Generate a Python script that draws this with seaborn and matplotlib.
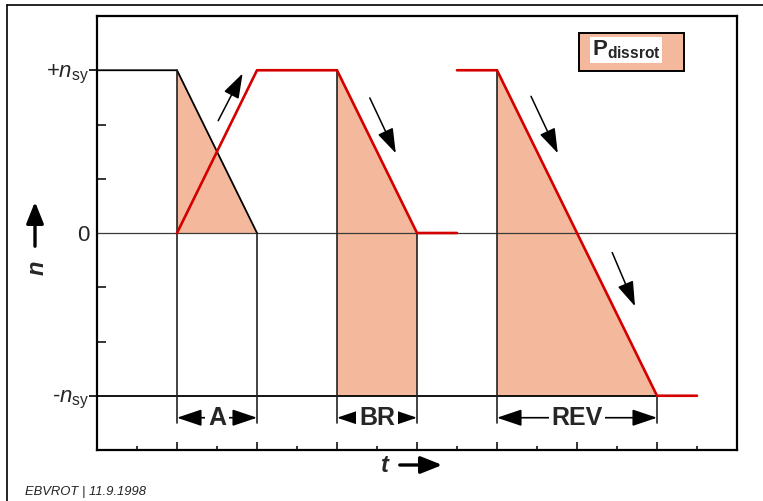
import numpy as np
import pandas as pd
import seaborn as sns
import matplotlib
matplotlib.use("Agg")
import matplotlib.pyplot as plt
from matplotlib.lines import Line2D
from matplotlib.patches import Rectangle, Polygon, FancyArrowPatch

# ---------------- data ----------------
t_black = [0, 2, 4]
n_black = [1, 1, 0]
t_red1 = [2, 4, 6, 8, 9]
n_red1 = [0, 1, 1, 0, 0]
t_red2 = [9, 10, 14, 15]
n_red2 = [1, 1, -1, -1]
t_base = [0, 14]
n_base = [-1, -1]
bound_x = [2, 4, 6, 8, 10, 14]
bound_top = [1, 0, 1, 0, 1, -1]
interval_names = ["A", "BR", "REV"]
interval_start = [2, 6, 10]
interval_end = [4, 8, 14]
ytick_vals = [-1, 0, 1]
ytick_labels = [r"-$\mathit{n}_{\mathrm{sy}}$", "0", r"+$\mathit{n}_{\mathrm{sy}}$"]
# dissipated-power areas
fillA_t = [2, 2, 4]
fillA_n = [1, 0, 0]
fillBR_t = [6, 8, 8, 6]
fillBR_n = [1, 0, -1, -1]
fillREV_t = [10, 14, 10]
fillREV_n = [1, -1, -1]
# direction arrows (start t, start n, end t, end n)
arrows = [(3.03, 0.69, 3.64, 0.98),
          (6.82, 0.83, 7.47, 0.49),
          (10.85, 0.84, 11.52, 0.49),
          (12.88, -0.12, 13.45, -0.45)]

RED = "#D40000"
SALMON = "#F4B99C"

sns.set_theme(style="white")
plt.rcParams["font.family"] = ["Liberation Sans", "DejaVu Sans"]
plt.rcParams["mathtext.fontset"] = "custom"
plt.rcParams["mathtext.rm"] = "Liberation Sans"
plt.rcParams["mathtext.it"] = "Liberation Sans:italic"
plt.rcParams["mathtext.bf"] = "Liberation Sans:bold"

fig = plt.figure(figsize=(7.63, 5.01), dpi=100)
ax = fig.add_axes([97 / 763, 1 - 450 / 501, 640 / 763, 434 / 501])

# fills
for tt, nn in [(fillA_t, fillA_n), (fillBR_t, fillBR_n), (fillREV_t, fillREV_n)]:
    ax.add_patch(Polygon(list(zip(tt, nn)), closed=True, facecolor=SALMON,
                         edgecolor="none", zorder=1))

# zero line
ax.axhline(0, color="#3a3a3a", lw=0.9, zorder=2)

# black lines
sns.lineplot(x=t_black, y=n_black, ax=ax, color="black", lw=1.3, sort=False,
             estimator=None, zorder=3)
sns.lineplot(x=t_base, y=n_base, ax=ax, color="black", lw=1.3, sort=False,
             estimator=None, zorder=3)
for bx, bt in zip(bound_x, bound_top):
    ax.plot([bx, bx], [bt, -1.166], color="#222222", lw=1.2, zorder=3)

# red lines
sns.lineplot(x=t_red1, y=n_red1, ax=ax, color=RED, lw=1.9, sort=False,
             estimator=None, zorder=4)
sns.lineplot(x=t_red2, y=n_red2, ax=ax, color=RED, lw=1.9, sort=False,
             estimator=None, zorder=4)

# interval brackets
yb = -1.135
for name, s, e in zip(interval_names, interval_start, interval_end):
    ax.annotate("", xy=(s, yb), xytext=(e, yb),
                arrowprops=dict(arrowstyle="<|-|>,head_length=0.8,head_width=0.27",
                                color="black", lw=1.2, mutation_scale=19,
                                shrinkA=0, shrinkB=0), zorder=5)
    ax.text((s + e) / 2, yb, name, ha="center", va="center", fontsize=18,
            fontweight="bold", zorder=6,
            bbox=dict(facecolor="white", edgecolor="none", pad=2.0))

# direction arrows
for x0, y0, x1, y1 in arrows:
    ax.annotate("", xy=(x1, y1), xytext=(x0, y0),
                arrowprops=dict(arrowstyle="-|>,head_length=0.9,head_width=0.3",
                                color="black", lw=1.1, mutation_scale=17,
                                shrinkA=0, shrinkB=0), zorder=5)

ax.set_xlim(0, 16)
ax.set_ylim(-4 / 3, 4 / 3)
ax.set_xticks(np.arange(0, 17, 2))
ax.set_xticks(np.arange(1, 16, 2), minor=True)
ax.set_xticklabels([])
ax.tick_params(axis="x", which="major", direction="in", length=6, width=1.1,
               bottom=True, color="black")
ax.tick_params(axis="x", which="minor", direction="in", length=3.2, width=1.1,
               bottom=True, color="black")
ax.set_yticks(ytick_vals)
ax.set_yticklabels(ytick_labels, fontsize=16)
ax.set_yticks([-4 / 3, -2 / 3, -1 / 3, 1 / 3, 2 / 3, 4 / 3], minor=True)
ax.tick_params(axis="y", which="major", direction="out", length=5.5, width=1.2,
               pad=0, left=True, color="black")
ax.tick_params(axis="y", which="minor", direction="in", length=6.5, width=1.1,
               left=True, color="black")
ax.yaxis.get_major_ticks()[1].tick1line.set_visible(False)
ax.set_xlabel("")
ax.set_ylabel("")
for sp in ax.spines.values():
    sp.set_linewidth(1.6)
    sp.set_color("black")
    sp.set_visible(True)


def fx(x):
    return x / 763


def fy(y):
    return 1 - y / 501


# legend box
fig.add_artist(Rectangle((fx(579), fy(71)), fx(684) - fx(579), fy(33) - fy(71),
                         transform=fig.transFigure, facecolor=SALMON,
                         edgecolor="black", lw=1.4, zorder=5))
fig.text(fx(626), fy(50), r"$\mathbf{P_{dissrot}}$", ha="center", va="center",
         fontsize=16, zorder=6,
         bbox=dict(facecolor="white", edgecolor="none", pad=1.0))

# axis labels with arrows
fig.text(fx(37), fy(268), "n", rotation=90, ha="center", va="center",
         fontsize=17, fontweight="bold", style="italic")
fig.add_artist(FancyArrowPatch(
    (fx(35), fy(249)), (fx(35), fy(199)), transform=fig.transFigure,
    arrowstyle="-|>,head_length=1.0,head_width=0.4", mutation_scale=13,
    color="black", lw=2.4))
fig.text(fx(385), fy(466), "t", ha="center", va="center", fontsize=17,
         fontweight="bold", style="italic")
fig.add_artist(FancyArrowPatch(
    (fx(397), fy(465)), (fx(445), fy(465)), transform=fig.transFigure,
    arrowstyle="-|>,head_length=1.0,head_width=0.4", mutation_scale=13,
    color="black", lw=2.4))

# footer
fig.text(fx(25), fy(495), "EBVROT | 11.9.1998", ha="left", va="baseline",
         fontsize=9.4, style="italic", color="#222222")

# page frame
fig.add_artist(Line2D([fx(7), 1], [fy(5), fy(5)], transform=fig.transFigure,
                      color="black", lw=1.2))
fig.add_artist(Line2D([fx(7), fx(7)], [0, fy(5)], transform=fig.transFigure,
                      color="black", lw=1.2))

fig.savefig("out.png", dpi=100)
